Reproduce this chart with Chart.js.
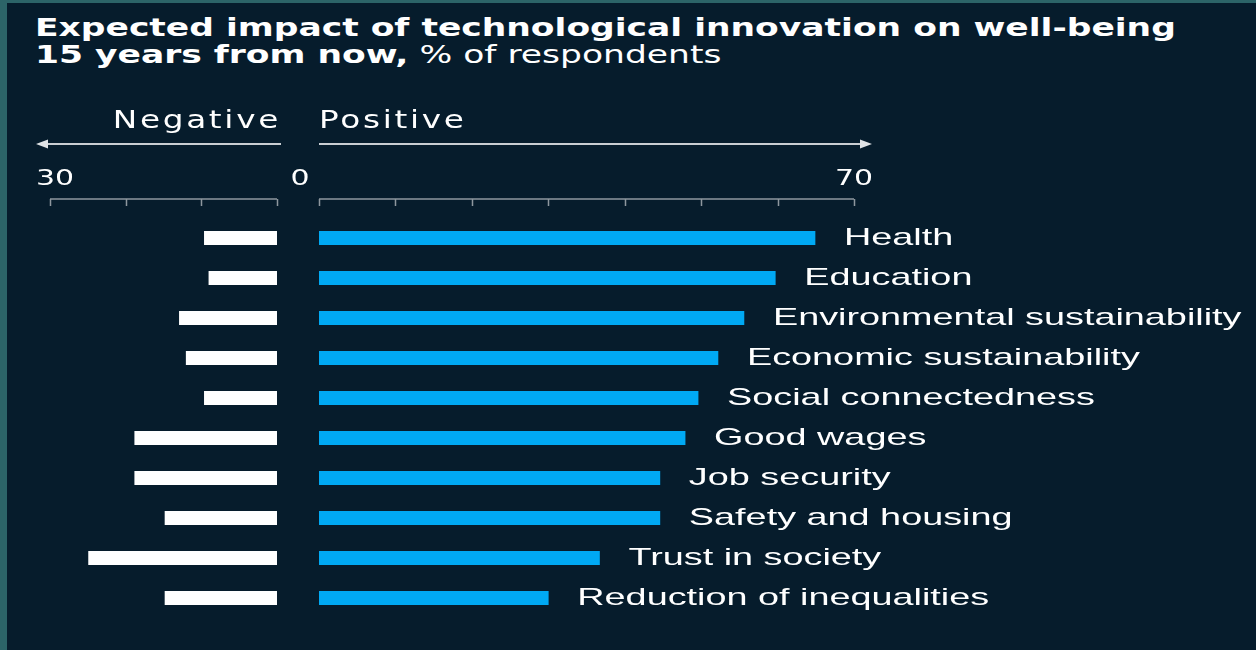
<!DOCTYPE html>
<html><head><meta charset="utf-8">
<script src="https://cdn.jsdelivr.net/npm/chart.js@4"></script>
<style>
html,body{margin:0;padding:0;width:1256px;height:650px;overflow:hidden;background:#2c6468;}
#panel{position:absolute;left:7px;top:3px;right:0;bottom:0;background:#061c2c;}
#title{position:absolute;left:35px;top:14px;color:#fff;font-family:'DejaVu Sans';font-size:25px;line-height:27px;transform-origin:0 0;transform:scaleX(1.38);white-space:nowrap;}
#title b{font-weight:bold}
#title span{font-weight:normal}
.cw{position:absolute;top:0;height:650px}
</style></head>
<body>
<div id="panel"></div>
<div id="title"><b>Expected impact of technological innovation on well-being</b><br><b>15 years from now,</b> <span>% of respondents</span></div>
<div class="cw" style="left:0;width:318px"><canvas id="left" width="318" height="650"></canvas></div>
<div class="cw" style="left:300px;width:956px"><canvas id="right" width="956" height="650"></canvas></div>
<script>
const categories = ['Health','Education','Environmental sustainability','Economic sustainability','Social connectedness','Good wages','Job security','Safety and housing','Trust in society','Reduction of inequalities'];
const positiveValues = [64.9,59.7,55.6,52.2,49.6,47.9,44.6,44.6,36.7,30.0];
const negativeValues = [9.6,9.0,12.9,12.0,9.6,18.8,18.8,14.8,24.9,14.8];
const negativeTicks = [0,10,20,30];
const positiveTicks = [0,10,20,30,40,50,60,70];
const negativeHeader = 'Negative';
const positiveHeader = 'Positive';

const DJ = "'DejaVu Sans'";
const LIB = "'Liberation Sans', Arial, sans-serif";
function drawText(ctx, text, x, y, align, size, family, sx, ls) {
  ctx.save();
  ctx.translate(x, y);
  ctx.scale(sx, 1);
  ctx.font = 'normal ' + size + 'px ' + family;
  if ('letterSpacing' in ctx) ctx.letterSpacing = (ls || 0) + 'px';
  ctx.textAlign = align;
  ctx.textBaseline = 'alphabetic';
  ctx.fillStyle = '#ffffff';
  ctx.fillText(text, 0, 0);
  ctx.restore();
}

function rulerPlugin(side) {
  return {
    id: 'ruler_' + side,
    afterDraw(chart) {
      const ctx = chart.ctx, xs = chart.scales.x, top = chart.chartArea.top;
      const ticks = side === 'neg' ? negativeTicks : positiveTicks;
      const maxV = ticks[ticks.length - 1];
      const yLine = top - 19;
      ctx.save();
      ctx.strokeStyle = '#8e979e';
      ctx.lineWidth = 1.5;
      ctx.beginPath();
      ctx.moveTo(xs.getPixelForValue(0), yLine);
      ctx.lineTo(xs.getPixelForValue(maxV), yLine);
      ticks.forEach(t => {
        const px = Math.round(xs.getPixelForValue(t)) + 0.5;
        ctx.moveTo(px, yLine);
        ctx.lineTo(px, yLine + 7);
      });
      ctx.stroke();
      const yArrow = top - 74;
      ctx.strokeStyle = '#c9ced2';
      ctx.fillStyle = '#e0e3e6';
      ctx.lineWidth = 2;
      let x0, x1, dir;
      if (side === 'neg') { x0 = xs.getPixelForValue(0) + 4; x1 = xs.getPixelForValue(maxV) - 14; dir = -1; }
      else { x0 = xs.getPixelForValue(0); x1 = xs.getPixelForValue(maxV) + 18; dir = 1; }
      ctx.beginPath();
      ctx.moveTo(x0, yArrow);
      ctx.lineTo(x1 - dir * 8, yArrow);
      ctx.stroke();
      ctx.beginPath();
      ctx.moveTo(x1, yArrow);
      ctx.lineTo(x1 - dir * 12, yArrow - 4.5);
      ctx.lineTo(x1 - dir * 12, yArrow + 4.5);
      ctx.closePath();
      ctx.fill();
      ctx.restore();
      const yHead = top - 90, yTick = top - 33;
      if (side === 'neg') {
        drawText(ctx, negativeHeader, xs.getPixelForValue(0) + 4, yHead, 'right', 24, DJ, 1.36, 2);
        drawText(ctx, String(maxV), xs.getPixelForValue(maxV) + 5, yTick, 'center', 22, DJ, 1.36, 0);
        drawText(ctx, String(0), xs.getPixelForValue(0) + 23, yTick, 'center', 22, DJ, 1.36, 0);
      } else {
        drawText(ctx, positiveHeader, xs.getPixelForValue(0), yHead, 'left', 24, DJ, 1.36, 2);
        drawText(ctx, String(maxV), xs.getPixelForValue(maxV), yTick, 'center', 22, DJ, 1.36, 0);
      }
    }
  };
}

const labelPlugin = {
  id: 'barLabels',
  afterDatasetsDraw(chart) {
    const meta = chart.getDatasetMeta(0);
    meta.data.forEach((el, i) => {
      drawText(chart.ctx, categories[i], el.x + 29, el.y + 7, 'left', 24, LIB, 1.575, 0);
    });
  }
};

function makeChart(id, values, color, maxV, reverse, padding, plugins) {
  return new Chart(document.getElementById(id), {
    type: 'bar',
    data: { labels: categories, datasets: [{ data: values, backgroundColor: color, borderWidth: 0, barThickness: 13.5 }] },
    options: {
      indexAxis: 'y',
      responsive: false,
      animation: false,
      devicePixelRatio: 1,
      layout: { padding },
      plugins: { legend: { display: false }, tooltip: { enabled: false }, title: { display: false } },
      scales: {
        x: { type: 'linear', min: 0, max: maxV, reverse, display: false },
        y: { type: 'category', display: false }
      }
    },
    plugins
  });
}

makeChart('left', negativeValues, '#ffffff', negativeTicks[negativeTicks.length-1], true,
  { left: 50, right: 41, top: 218, bottom: 32 }, [rulerPlugin('neg')]);
makeChart('right', positiveValues, '#00a9f4', positiveTicks[positiveTicks.length-1], false,
  { left: 19, right: 402, top: 218, bottom: 32 }, [rulerPlugin('pos'), labelPlugin]);
</script>
</body></html>
